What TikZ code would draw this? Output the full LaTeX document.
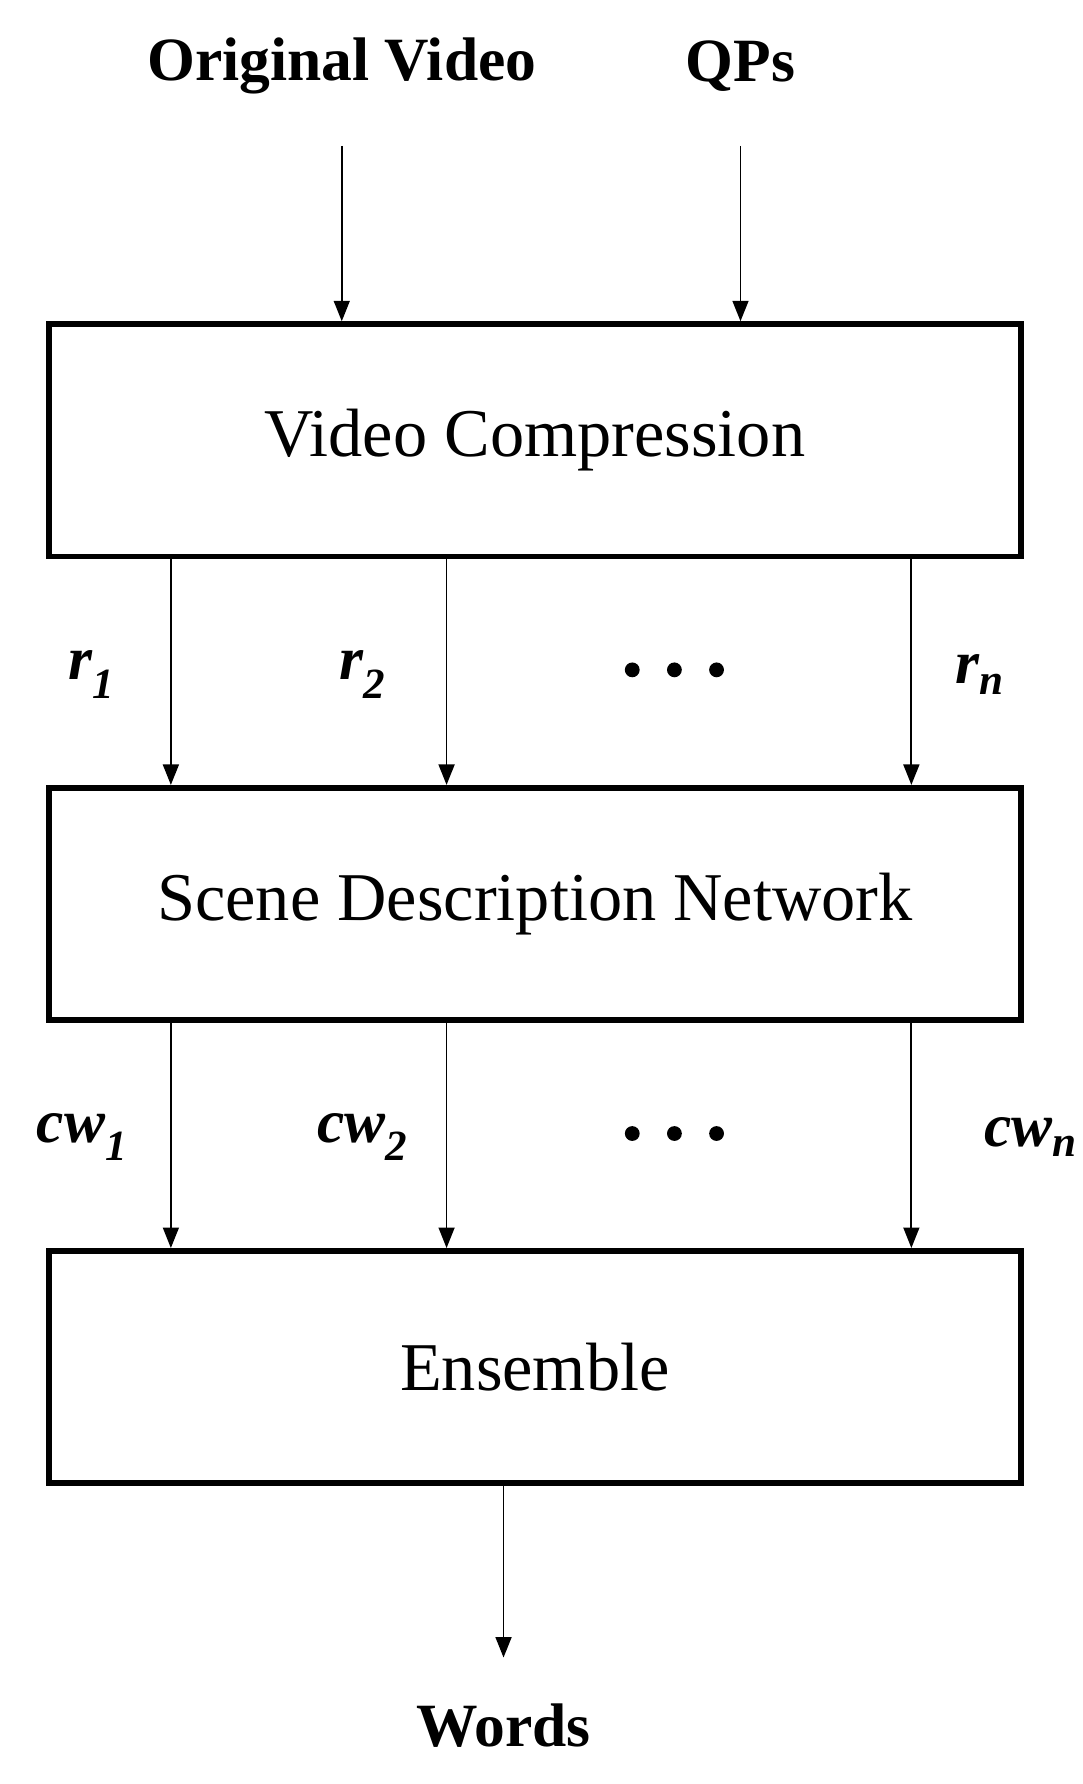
\documentclass[tikz,border=0pt]{standalone}
\usepackage{fontspec}
\setmainfont{Liberation Serif}
\usetikzlibrary{arrows.meta}
\begin{document}
\begin{tikzpicture}[x=1pt,y=-1pt,
  box/.style={draw,line width=5pt,minimum width=853pt,minimum height=204pt,inner sep=0pt,font=\fontsize{60}{72}\selectfont},
  arr/.style={line width=1.6pt,-{Triangle[length=18pt,width=14pt]}},
  ttl/.style={font=\fontsize{54}{64}\selectfont\bfseries},
  lbl/.style={font=\fontsize{54}{64}\selectfont\bfseries\itshape}]
\useasboundingbox (0,0) rectangle (950,1566);
\node[box] (vc) at (469.5,386.5) {Video Compression};
\node[box] (sdn) at (469.5,793.5) {Scene Description Network};
\node[box] (ens) at (469.5,1200) {Ensemble};
\node[ttl] (ov) at (300,58) {Original Video};
\node[ttl] (qp) at (650,58) {QPs};
\node[ttl] (w) at (442,1515) {Words};
\coordinate (ovs) at (300,128); \coordinate (qps) at (650,128);
\draw[arr] (ovs) -- (vc.north -| ovs);
\draw[arr] (qps) -- (vc.north -| qps);
\foreach \x/\n in {150/a,392/b,800/c}{
  \draw[arr] (vc.south -| \x,0) -- (sdn.north -| \x,0);
  \draw[arr] (sdn.south -| \x,0) -- (ens.north -| \x,0);
}
\coordinate (we) at (442,1455);
\draw[arr] (ens.south -| we) -- (we);
\node[lbl] (r1) at (80,592) {r\textsubscript{1}};
\node[lbl] (r2) at (318,592) {r\textsubscript{2}};
\node[lbl] (rn) at (860,592) {r\textsubscript{n}};
\node[lbl] (c1) at (72,998) {cw\textsubscript{1}};
\node[lbl] (c2) at (318,998) {cw\textsubscript{2}};
\node[lbl] (cn) at (905,998) {cw\textsubscript{n}};
\foreach \y/\n in {588/d1,995/d2}{
  \foreach \x in {555,592,629} \fill (\x,\y) circle (6.5pt);
}
\end{tikzpicture}
\end{document}
